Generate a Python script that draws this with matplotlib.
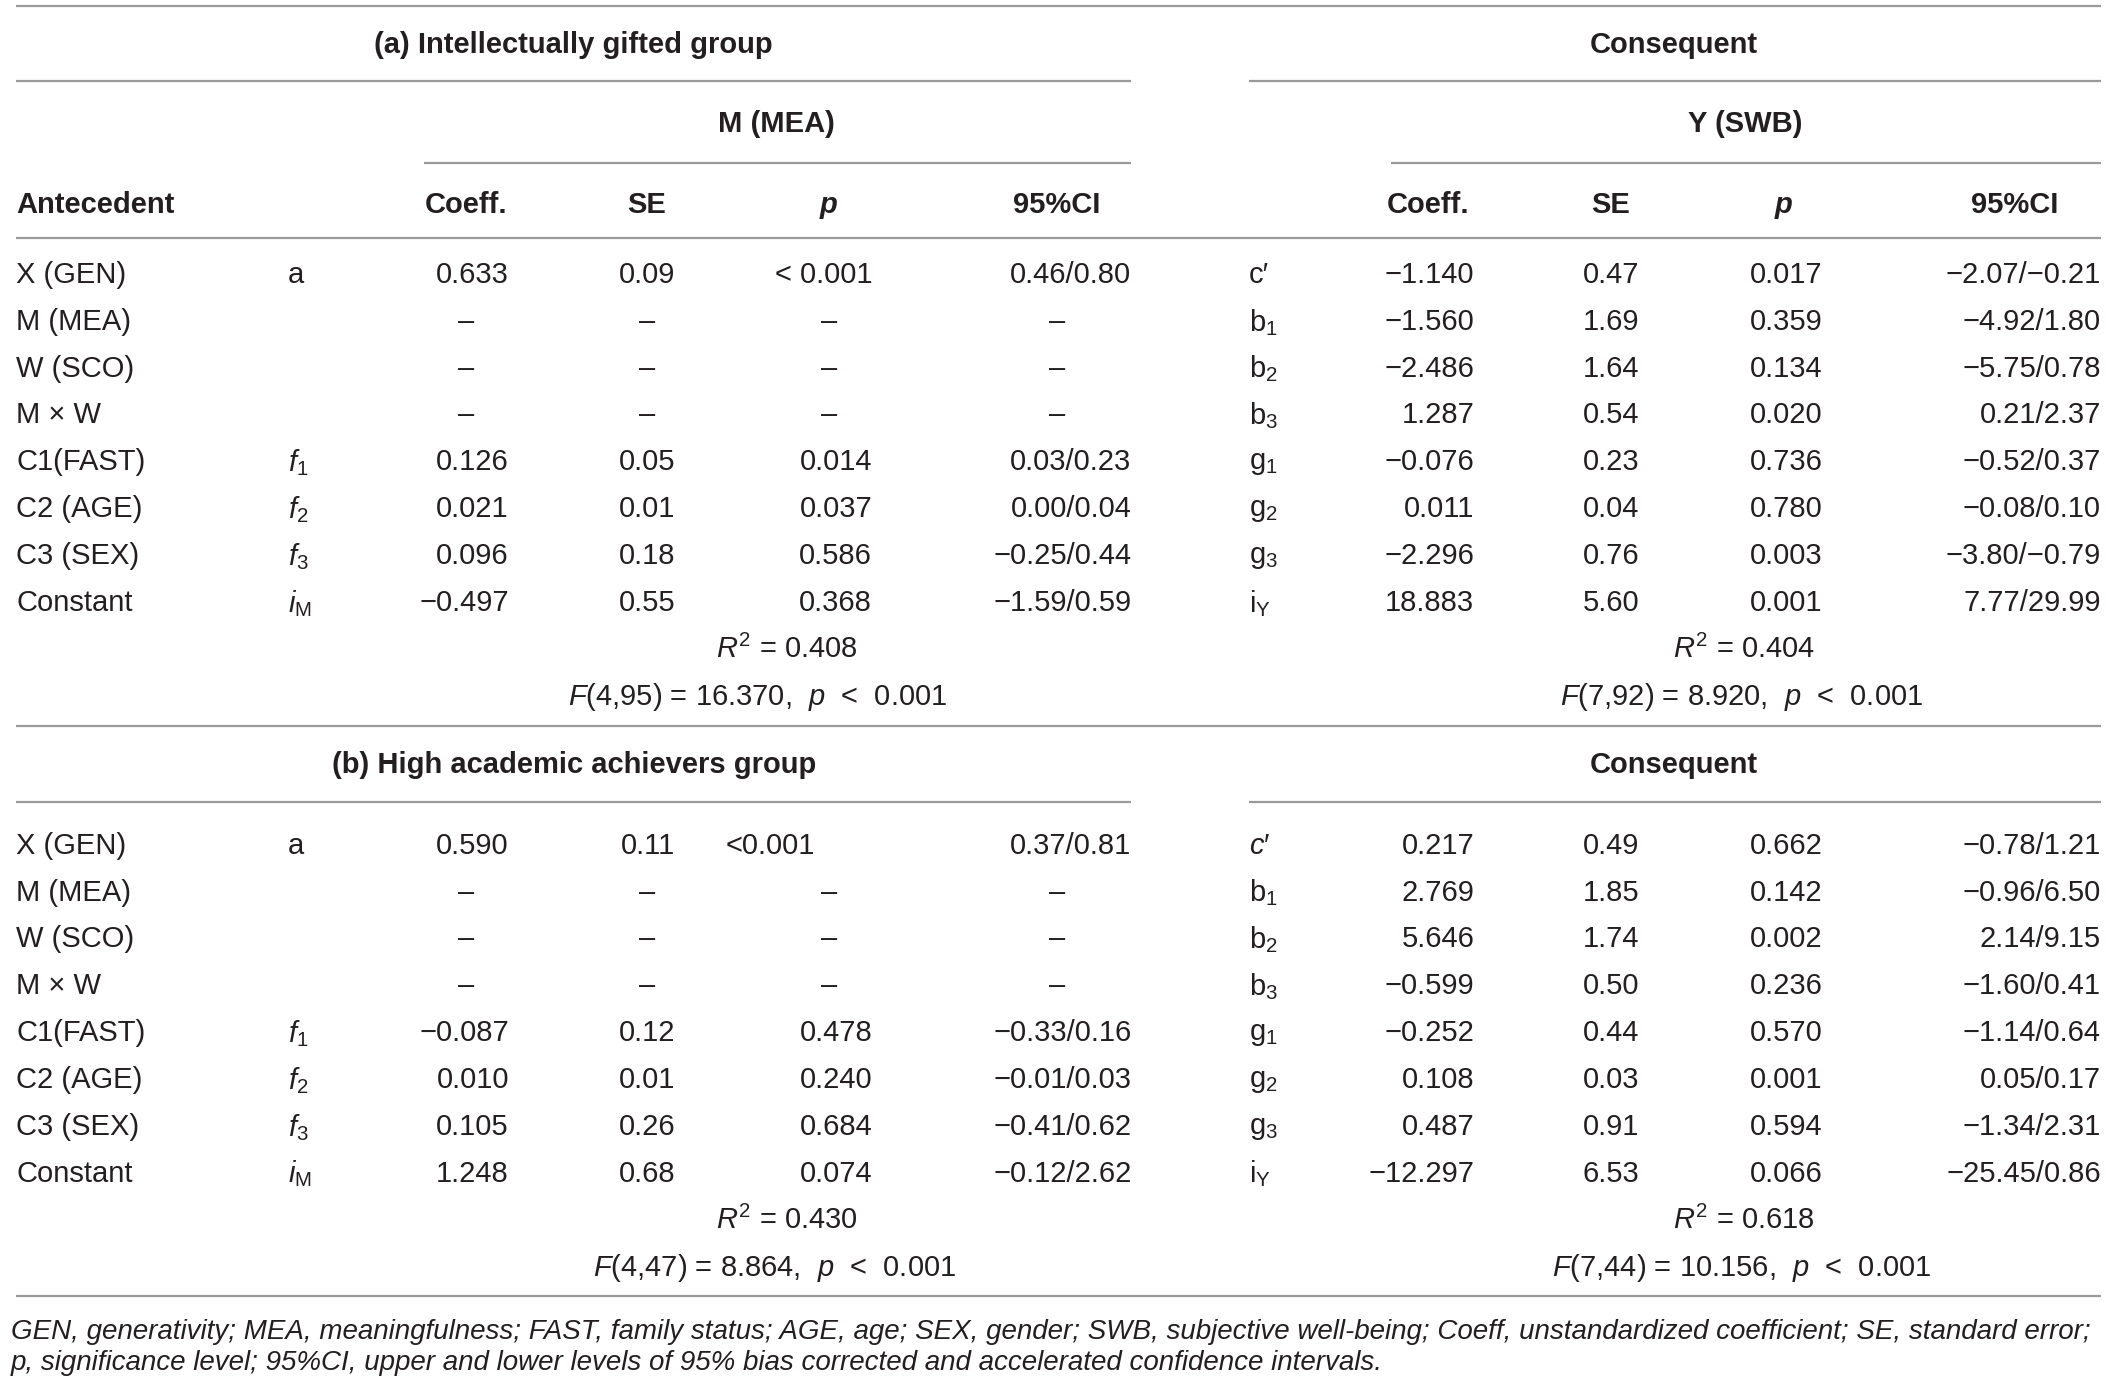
import matplotlib
matplotlib.use('Agg')
import matplotlib.pyplot as plt

plt.rcParams['font.family'] = ['Liberation Sans', 'DejaVu Sans']
plt.rcParams['mathtext.fontset'] = 'custom'
plt.rcParams['mathtext.rm'] = 'Liberation Sans'
plt.rcParams['mathtext.it'] = 'Liberation Sans:italic'
plt.rcParams['mathtext.bf'] = 'Liberation Sans:bold'

# ---------------- data ----------------
antecedents = ["X (GEN)", "M (MEA)", "W (SCO)", "M × W", "C1(FAST)", "C2 (AGE)", "C3 (SEX)", "Constant"]
m_symbols = ["a", "", "", "", r"$f_1$", r"$f_2$", r"$f_3$", r"$i_{\mathrm{M}}$"]
y_symbols_a = ["c′", r"b$_1$", r"b$_2$", r"b$_3$", r"g$_1$", r"g$_2$", r"g$_3$", r"i$_{\mathrm{Y}}$"]
y_symbols_b = [r"$c$′", r"b$_1$", r"b$_2$", r"b$_3$", r"g$_1$", r"g$_2$", r"g$_3$", r"i$_{\mathrm{Y}}$"]

a_m_coef = ["0.633", "–", "–", "–", "0.126", "0.021", "0.096", "−0.497"]
a_m_se = ["0.09", "–", "–", "–", "0.05", "0.01", "0.18", "0.55"]
a_m_p = ["< 0.001", "–", "–", "–", "0.014", "0.037", "0.586", "0.368"]
a_m_ci = ["0.46/0.80", "–", "–", "–", "0.03/0.23", "0.00/0.04", "−0.25/0.44", "−1.59/0.59"]
a_y_coef = ["−1.140", "−1.560", "−2.486", "1.287", "−0.076", "0.011", "−2.296", "18.883"]
a_y_se = ["0.47", "1.69", "1.64", "0.54", "0.23", "0.04", "0.76", "5.60"]
a_y_p = ["0.017", "0.359", "0.134", "0.020", "0.736", "0.780", "0.003", "0.001"]
a_y_ci = ["−2.07/−0.21", "−4.92/1.80", "−5.75/0.78", "0.21/2.37", "−0.52/0.37", "−0.08/0.10", "−3.80/−0.79", "7.77/29.99"]

b_m_coef = ["0.590", "–", "–", "–", "−0.087", "0.010", "0.105", "1.248"]
b_m_se = ["0.11", "–", "–", "–", "0.12", "0.01", "0.26", "0.68"]
b_m_p = ["<0.001", "–", "–", "–", "0.478", "0.240", "0.684", "0.074"]
b_m_ci = ["0.37/0.81", "–", "–", "–", "−0.33/0.16", "−0.01/0.03", "−0.41/0.62", "−0.12/2.62"]
b_y_coef = ["0.217", "2.769", "5.646", "−0.599", "−0.252", "0.108", "0.487", "−12.297"]
b_y_se = ["0.49", "1.85", "1.74", "0.50", "0.44", "0.03", "0.91", "6.53"]
b_y_p = ["0.662", "0.142", "0.002", "0.236", "0.570", "0.001", "0.594", "0.066"]
b_y_ci = ["−0.78/1.21", "−0.96/6.50", "2.14/9.15", "−1.60/0.41", "−1.14/0.64", "0.05/0.17", "−1.34/2.31", "−25.45/0.86"]

a_m_r2, a_m_F = "0.408", ("4,95", "16.370")
a_y_r2, a_y_F = "0.404", ("7,92", "8.920")
b_m_r2, b_m_F = "0.430", ("4,47", "8.864")
b_y_r2, b_y_F = "0.618", ("7,44", "10.156")

titles = ["(a) Intellectually gifted group", "(b) High academic achievers group"]
footnote = ["GEN, generativity; MEA, meaningfulness; FAST, family status; AGE, age; SEX, gender; SWB, subjective well-being; Coeff, unstandardized coefficient; SE, standard error;",
            "p, significance level; 95%CI, upper and lower levels of 95% bias corrected and accelerated confidence intervals."]

# ---------------- layout ----------------
FS = 21
TXT = '#231f20'
LINE = '#9a9a9a'
LW = 1.6

fig = plt.figure(figsize=(21.17, 13.82), dpi=100)
ax = fig.add_axes([0, 0, 1, 1])
ax.set_xlim(0, 1568)
ax.set_ylim(1024, 0)
ax.axis('off')


def hline(y, x0, x1):
    ax.plot([x0, x1], [y, y], color=LINE, lw=LW, solid_capstyle='butt')


def txt(x, y, s, ha='left', **kw):
    kw.setdefault('fontsize', FS)
    kw.setdefault('color', TXT)
    ax.text(x, y, s, ha=ha, va='center_baseline', **kw)


# column specs: (center, right edge)
mcols = [(345, 377), (479, 500), (614, 646), (783, 838)]
ycols = [(1058, 1092), (1193, 1214), (1321, 1350), (1492, 1556)]
STEP = 34.7


def cell(col, y, s, right_override=None):
    c, r = col
    if s == "–":
        txt(c, y, s, ha='center')
    else:
        txt(right_override if right_override else r, y, s, ha='right')


def block(title_y, rows0, title, msym, ysym, mdata, ydata, mstats, ystats, fcenter, p_override=None):
    txt(425, title_y, title, ha='center', fontweight='bold')
    txt(1240, title_y, "Consequent", ha='center', fontweight='bold')
    for i, lab in enumerate(antecedents):
        y = rows0 + i * STEP
        txt(12, y, lab)
        if msym[i]:
            txt(213, y, msym[i])
        txt(925, y, ysym[i])
        for j, col in enumerate(mcols):
            ov = p_override if (j == 2 and i == 0) else None
            cell(col, y, mdata[j][i], ov)
        for j, col in enumerate(ycols):
            cell(col, y, ydata[j][i])
    ry = rows0 + 8 * STEP
    r2, (df, fv) = mstats
    txt(583, ry, r"$R^2$ = " + r2, ha='center')
    txt(fcenter, ry + STEP, r"$F$(" + df + ") = " + fv + r",  $p$  <  0.001", ha='center')
    r2, (df, fv) = ystats
    txt(1292, ry, r"$R^2$ = " + r2, ha='center')
    txt(1290, ry + STEP, r"$F$(" + df + ") = " + fv + r",  $p$  <  0.001", ha='center')


# lines
hline(4.5, 12, 1556)
hline(60, 12, 838); hline(60, 925, 1556)
hline(120.5, 314, 838); hline(120.5, 1030, 1556)
hline(176, 12, 1556)
hline(538, 12, 1556)
hline(594, 12, 838); hline(594, 925, 1556)
hline(960, 12, 1556)

# section (a) header rows
txt(575, 90, "M (MEA)", ha='center', fontweight='bold')
txt(1293, 90, "Y (SWB)", ha='center', fontweight='bold')
hy = 150
txt(12, hy, "Antecedent", fontweight='bold')
for (c, r), h in zip(mcols + ycols, ["Coeff.", "SE", "p", "95%CI"] * 2):
    txt(c, hy, h, ha='center', fontweight='bold', style='italic' if h == 'p' else 'normal')

block(31, 201.5, titles[0], m_symbols, y_symbols_a,
      [a_m_coef, a_m_se, a_m_p, a_m_ci], [a_y_coef, a_y_se, a_y_p, a_y_ci],
      (a_m_r2, a_m_F), (a_y_r2, a_y_F), 561)
block(564.5, 624.5, titles[1], m_symbols, y_symbols_b,
      [b_m_coef, b_m_se, b_m_p, b_m_ci], [b_y_coef, b_y_se, b_y_p, b_y_ci],
      (b_m_r2, b_m_F), (b_y_r2, b_y_F), 574, p_override=604)

# footnote
txt(8, 985, footnote[0], style='italic', fontsize=20)
txt(8, 1008, footnote[1], style='italic', fontsize=20)

fig.savefig('out.png', dpi=100)
